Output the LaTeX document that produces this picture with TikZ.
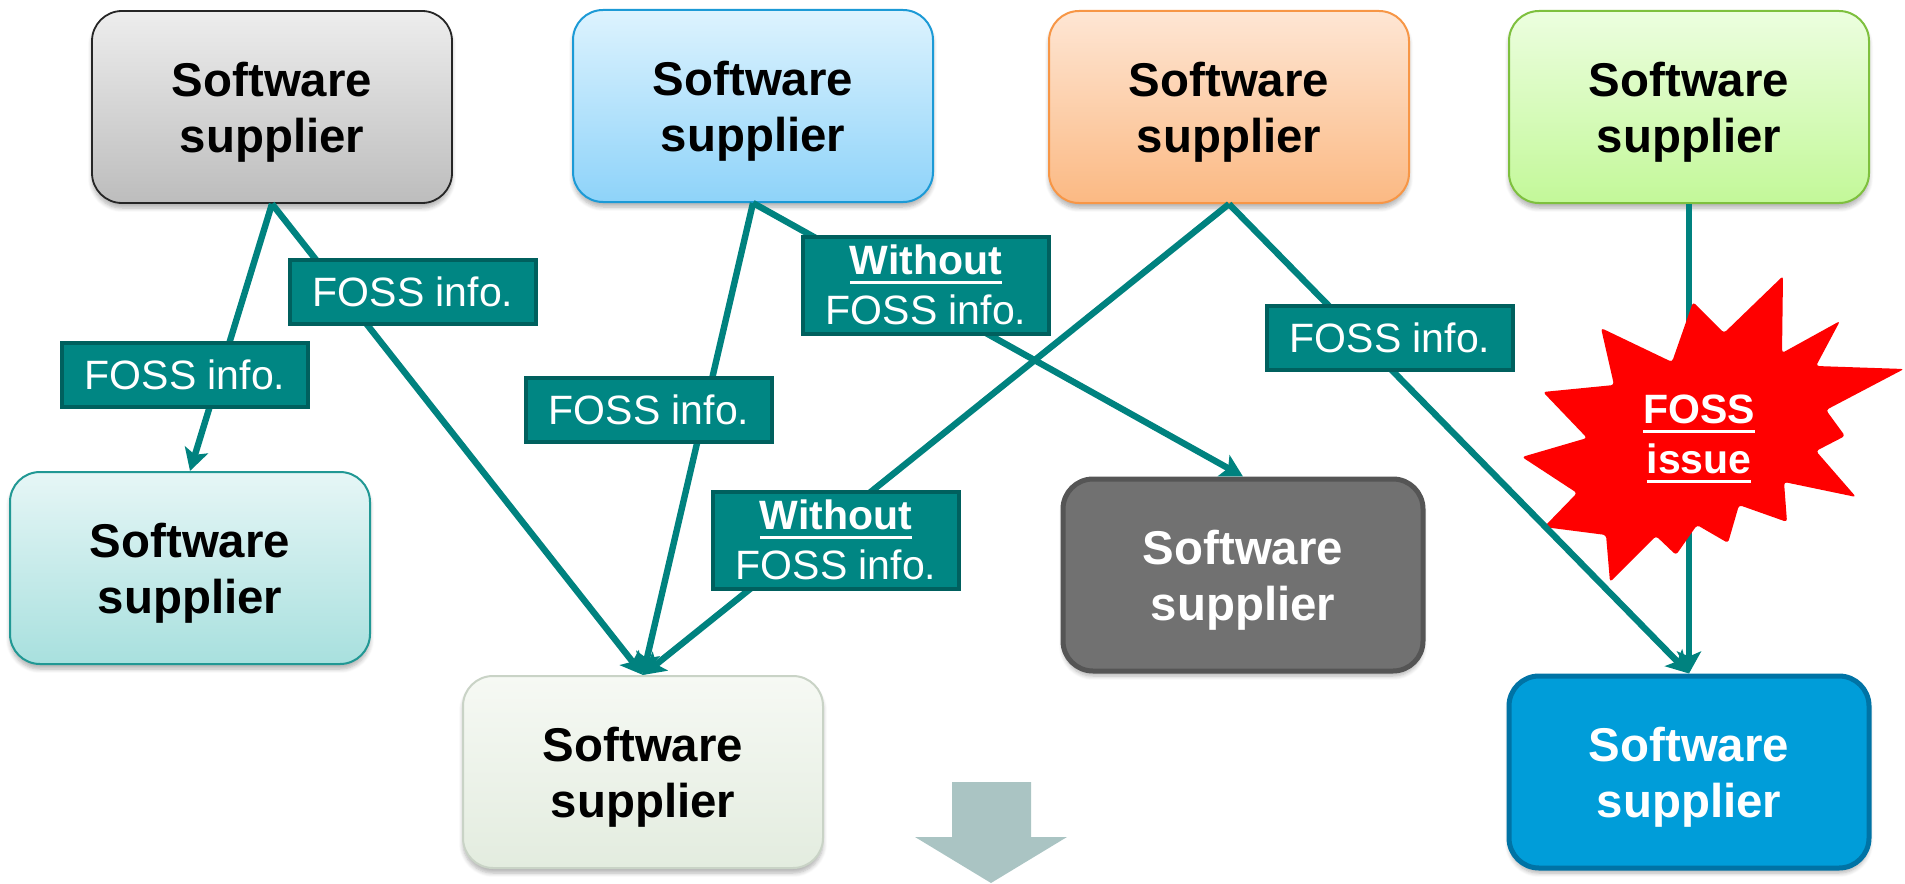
\documentclass[tikz,border=0pt]{standalone}
\usepackage{fontspec}
\setmainfont{Liberation Sans}
\usepackage{tikz}
\usetikzlibrary{arrows.meta,shadows.blur}

\definecolor{foss}{HTML}{00827F}
\definecolor{fossfill}{HTML}{008683}
\definecolor{fossdark}{HTML}{00605E}
\definecolor{blockgrey}{HTML}{AAC4C3}
\definecolor{blueTop}{HTML}{DDF3FE}
\definecolor{blueBot}{HTML}{8ED3F9}
\definecolor{blueLine}{HTML}{1C9AD6}
\definecolor{orangeTop}{HTML}{FEE6D4}
\definecolor{orangeBot}{HTML}{FBB983}
\definecolor{orangeLine}{HTML}{F79646}
\definecolor{greenTop}{HTML}{ECFEDF}
\definecolor{greenBot}{HTML}{C3F899}
\definecolor{greenLine}{HTML}{7EC03E}
\definecolor{tealTop}{HTML}{E6F6F6}
\definecolor{tealBot}{HTML}{A8E0DE}
\definecolor{tealLine}{HTML}{219894}
\definecolor{paleTop}{HTML}{F6F9F4}
\definecolor{paleBot}{HTML}{E3ECDF}
\definecolor{paleLine}{HTML}{C9D3C6}
\definecolor{darkFill}{HTML}{717171}
\definecolor{darkLine}{HTML}{555555}
\definecolor{brightFill}{HTML}{009DD9}
\definecolor{brightLine}{HTML}{0073A5}

\newcommand{\ulword}[1]{\leavevmode\setbox0\hbox{#1}\rlap{\rule[-4.5pt]{\wd0}{1.4pt}}\box0}

\begin{document}
\begin{tikzpicture}[x=0.5pt,y=-0.5pt,
    supplier/.style={rounded corners=15pt, minimum width=180pt, minimum height=96pt, inner sep=0pt,
        align=center, text depth=0pt, font=\fontsize{23.7}{28}\selectfont\bfseries,
        blur shadow={shadow xshift=0pt, shadow yshift=-2.5pt, shadow blur steps=6, shadow opacity=30}},
    info/.style={fill=fossfill, draw=fossdark, line width=2pt, text=white, inner sep=0pt,
        minimum width=123pt, minimum height=32pt, align=center, font=\fontsize{20.5}{25}\selectfont},
    flow/.style={draw=foss, line width=3.2pt, -{Stealth[length=11pt,width=12pt,inset=2.5pt]}}]
    \useasboundingbox (0,0) rectangle (1905,883);

    % suppliers
    \node[supplier, top color=black!7, bottom color=black!26, draw=black!85, line width=0.9pt] (sgrey) at (272,107) {Software\\supplier};
    \node[supplier, top color=blueTop, bottom color=blueBot, draw=blueLine, line width=1pt] (sblue) at (753,106) {Software\\supplier};
    \node[supplier, top color=orangeTop, bottom color=orangeBot, draw=orangeLine, line width=1pt] (sorange) at (1229,107) {Software\\supplier};
    \node[supplier, top color=greenTop, bottom color=greenBot, draw=greenLine, line width=1pt] (sgreen) at (1689,107) {Software\\supplier};
    \node[supplier, top color=tealTop, bottom color=tealBot, draw=tealLine, line width=1pt] (steal) at (190,568) {Software\\supplier};
    \node[supplier, top color=paleTop, bottom color=paleBot, draw=paleLine, line width=1pt] (slight) at (643,772) {Software\\supplier};
    \node[supplier, fill=darkFill, draw=darkLine, line width=2.5pt, text=white] (sdark) at (1243,575) {Software\\supplier};
    \node[supplier, fill=brightFill, draw=brightLine, line width=2.5pt, text=white] (sbright) at (1689,772) {Software\\supplier};

    \fill[blockgrey] (952,782) -- (1031,782) -- (1031,837) -- (1067,837) -- (991,883) -- (915,837) -- (952,837) -- cycle;

    \draw[flow] (sgreen.south) -- (sbright.north);

    % the issue
    \fill[red, rounded corners=1.5pt] (1693,302) -- (1724,333) -- (1783,276) -- (1782,353) -- (1840,321) -- (1816,366)
        -- (1904,369) -- (1826,410) -- (1845,436) -- (1816,451) -- (1856,497) -- (1784,482) -- (1787,522)
        -- (1739,505) -- (1728,543) -- (1697,525) -- (1676,555) -- (1656,536) -- (1610,582) -- (1606,535)
        -- (1544,527) -- (1577,493) -- (1522,457) -- (1587,438) -- (1543,392) -- (1614,385) -- (1601,328)
        -- (1672,362) -- cycle;
    \node[text=white, align=center, inner sep=0pt, font=\fontsize{20.5}{25}\selectfont\bfseries] (issue) at (1699,439) {\ulword{FOSS}\\\ulword{issue}};

    \draw[flow] (sgrey.south) -- (steal.north);
    \draw[flow] (sgrey.south) -- (slight.north);
    \draw[flow] (sblue.south) -- (slight.north);
    \draw[flow] (sblue.south) -- (sdark.north);
    \draw[flow] (sorange.south) -- (slight.north);
    \draw[flow] (sorange.south) -- (sbright.north);

    % labels
    \node[info] (info1) at (185,375) {FOSS info.};
    \node[info] (info2) at (413,292) {FOSS info.};
    \node[info] (info3) at (649,410) {FOSS info.};
    \node[info, minimum height=48.5pt] (info4) at (926,285) {\ulword{\bfseries Without}\\FOSS info.};
    \node[info] (info5) at (1390,338) {FOSS info.};
    \node[info, minimum height=48.5pt] (info6) at (836,540) {\ulword{\bfseries Without}\\FOSS info.};
\end{tikzpicture}
\end{document}
